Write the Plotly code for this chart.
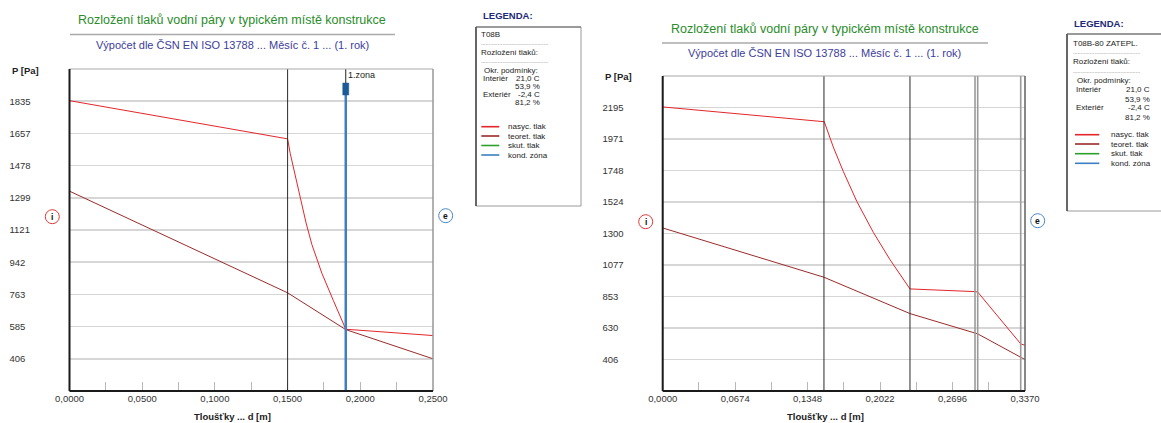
import plotly.graph_objects as go

# ---------------- data ----------------
# left chart: T08B
d_left_sat = [0.0, 0.15, 0.1518, 0.1585, 0.1627, 0.1667, 0.1736, 0.1815, 0.19, 0.25]
p_left_sat = [1838, 1626, 1545, 1300, 1160, 1040, 880, 729, 570, 535]
d_left_teo = [0.0, 0.15, 0.19, 0.25]
p_left_teo = [1336, 772, 568, 406]
left_layers = [0.15]
left_zone = [0.19]
left_yticks = [406, 585, 763, 942, 1121, 1299, 1478, 1657, 1835]
left_xticks = [0.0, 0.05, 0.10, 0.15, 0.20, 0.25]
left_yrange = [227.4, 2013.6]

# right chart: T08B-80 ZATEPL.
d_right_sat = [0.0, 0.1503, 0.1587, 0.168, 0.1805, 0.1959, 0.2114, 0.23, 0.2905, 0.293, 0.333, 0.337]
p_right_sat = [2199, 2094, 1914, 1741, 1529, 1309, 1115, 907, 888, 885, 517, 507]
d_right_teo = [0.0, 0.15, 0.23, 0.2905, 0.293, 0.333, 0.337]
p_right_teo = [1340, 990, 732, 592, 588, 422, 406]
right_layers = [0.15, 0.23]
right_thin_layers = [0.2905, 0.293, 0.333]
right_yticks = [406, 630, 853, 1077, 1300, 1524, 1748, 1971, 2195]
right_xticks = [0.0, 0.0674, 0.1348, 0.2022, 0.2696, 0.3370]
right_yrange = [182.4, 2418.6]

legend_names = ["nasyc. tlak", "teoret. tlak", "skut. tlak", "kond. zóna"]
title_text = "Rozložení tlaků vodní páry v typickém místě konstrukce"
subtitle_text = "Výpočet dle ČSN EN ISO 13788 ... Měsíc č. 1 ... (1. rok)"

# ---------------- style ----------------
W, H = 1161, 423
NARROW = "Liberation Sans Narrow, Arial Narrow, Liberation Sans, Arial, sans-serif"
SANS = "Liberation Sans, Arial, sans-serif"
C_SAT = "#e2262b"
C_TEO = "#9c2a2a"
C_SKUT = "#2ca02c"
C_KOND = "#3d7fc1"
C_GRID = "#d6d6d6"
C_TITLE = "#2a8c2a"
C_SUB = "#3c3c9c"
C_LEG = "#1c2a78"


def px(x):
    return x / W


def py(y):
    return 1 - y / H


fig = go.Figure()

fig.add_trace(go.Scatter(x=d_left_sat, y=p_left_sat, mode="lines", name=legend_names[0],
                         line=dict(color=C_SAT, width=1), xaxis="x", yaxis="y", showlegend=False))
fig.add_trace(go.Scatter(x=d_left_teo, y=p_left_teo, mode="lines", name=legend_names[1],
                         line=dict(color=C_TEO, width=1), xaxis="x", yaxis="y", showlegend=False))
fig.add_trace(go.Scatter(x=d_right_sat, y=p_right_sat, mode="lines", name=legend_names[0],
                         line=dict(color=C_SAT, width=1), xaxis="x2", yaxis="y2", showlegend=False))
fig.add_trace(go.Scatter(x=d_right_teo, y=p_right_teo, mode="lines", name=legend_names[1],
                         line=dict(color=C_TEO, width=1), xaxis="x2", yaxis="y2", showlegend=False))

tickfont = dict(family=NARROW, size=9.5, color="#333333")


def xaxis_cfg(domain, rng, ticks, minor_dtick, anchor):
    return dict(domain=domain, range=rng, anchor=anchor, automargin=False,
                tickmode="array", tickvals=ticks,
                ticktext=[f"{v:.4f}".replace(".", ",") for v in ticks],
                ticks="inside", ticklen=9, tickcolor="#b8b8b8", tickwidth=1,
                minor=dict(tickmode="linear", tick0=0, dtick=minor_dtick, ticks="inside",
                           ticklen=9, tickcolor="#b8b8b8", tickwidth=1, showgrid=False),
                showgrid=False, zeroline=False, showline=False,
                tickfont=tickfont, fixedrange=True)


def yaxis_cfg(domain, rng, ticks, pos):
    return dict(domain=domain, range=rng, anchor="free", position=pos, side="left", automargin=False,
                tickmode="array", tickvals=ticks, ticktext=[str(v) for v in ticks],
                ticklabelposition="inside", ticks="",
                showgrid=True, gridcolor=C_GRID, gridwidth=1.5,
                zeroline=False, showline=False, tickfont=tickfont, fixedrange=True)


L_dom_x = [px(69.5), px(433)]
L_dom_y = [py(391), py(69)]
R_dom_x = [px(662.7), px(1025)]
R_dom_y = [py(391), py(76)]

shapes = []
annotations = []


def frame(xa, ya, right_color):
    shapes.append(dict(type="rect", xref=f"{xa} domain", yref=f"{ya} domain", x0=0, x1=1, y0=0, y1=1,
                       line=dict(color="#a8a8a8", width=1), layer="above"))
    shapes.append(dict(type="line", xref=f"{xa} domain", yref=f"{ya} domain", x0=1, x1=1, y0=0, y1=1,
                       line=dict(color=right_color, width=1.2), layer="above"))
    shapes.append(dict(type="line", xref=f"{xa} domain", yref=f"{ya} domain", x0=0, x1=0, y0=0, y1=1,
                       line=dict(color="#1a1a1a", width=2), layer="above"))
    shapes.append(dict(type="line", xref=f"{xa} domain", yref=f"{ya} domain", x0=0, x1=1, y0=0, y1=0,
                       line=dict(color="#1a1a1a", width=2), layer="above"))


# layer boundaries
for d in left_layers:
    shapes.append(dict(type="line", xref="x", yref="y domain", x0=d, x1=d, y0=0, y1=1,
                       line=dict(color="#2a2a2a", width=1), layer="above"))
for d in right_layers:
    shapes.append(dict(type="line", xref="x2", yref="y2 domain", x0=d, x1=d, y0=0, y1=1,
                       line=dict(color="#2a2a2a", width=1), layer="above"))
for d in right_thin_layers:
    shapes.append(dict(type="line", xref="x2", yref="y2 domain", x0=d, x1=d, y0=0, y1=1,
                       line=dict(color="#9a9a9a", width=1.6), layer="above"))

# condensation zone (left)
for d in left_zone:
    shapes.append(dict(type="line", xref="x", yref="y domain", x0=d, x1=d, y0=0, y1=(391 - 95) / 322,
                       line=dict(color=C_KOND, width=2.5), layer="above"))
    shapes.append(dict(type="line", xref="x", yref="y domain", x0=d, x1=d, y0=(391 - 83) / 322, y1=1,
                       line=dict(color="#222222", width=1), layer="above"))
    shapes.append(dict(type="rect", xref="x", yref="y domain", xsizemode="pixel", xanchor=d,
                       x0=-3, x1=3, y0=(391 - 95) / 322, y1=(391 - 83) / 322,
                       line=dict(color="#1b5a96", width=0.5), fillcolor="#1b5a96", layer="above"))
    annotations.append(dict(xref="x", yref="y domain", x=d, y=(391 - 75) / 322, text="1.zona",
                            showarrow=False, xanchor="left", yanchor="middle", xshift=0,
                            font=dict(family=NARROW, size=9, color="#222222")))

frame("x", "y", "#9a9a9a")
frame("x2", "y2", "#555555")


def ann(x, y, text, size=9, color="#222222", family=NARROW, anchor="left"):
    annotations.append(dict(xref="paper", yref="paper", x=px(x), y=py(y), text=text, showarrow=False,
                            xanchor=anchor, yanchor="middle", font=dict(family=family, size=size, color=color)))


def hline(x0, x1, y, color, width):
    shapes.append(dict(type="line", xref="paper", yref="paper", x0=px(x0), x1=px(x1), y0=py(y), y1=py(y),
                       line=dict(color=color, width=width), layer="above"))


# titles
for cx, ty, ly, sy, lx0, lx1 in [(232, 20, 34.5, 45, 70, 395), (824.5, 29, 43, 52.7, 662, 988)]:
    ann(cx, ty, title_text, size=12.5, color=C_TITLE, family=SANS, anchor="center")
    hline(lx0, lx1, ly, "#aaaaaa", 1.5)
    ann(cx, sy, subtitle_text, size=11, color=C_SUB, family=NARROW, anchor="center")

# axis labels
ann(10, 70, "<b>P [Pa]</b>", size=9.5, color="#222222", family=SANS)
ann(603, 76.7, "<b>P [Pa]</b>", size=9.5, color="#222222", family=SANS)
ann(232.5, 416, "<b>Tloušťky ... d [m]</b>", size=9.5, color="#222222", family=SANS, anchor="center")
ann(825, 416, "<b>Tloušťky ... d [m]</b>", size=9.5, color="#222222", family=SANS, anchor="center")

# i / e markers
for cx, cy, col, letter in [(52.3, 216.7, "#e03a3a", "i"), (645.7, 221.7, "#e03a3a", "i"),
                            (445.7, 215.7, "#4a8ac8", "e"), (1037.7, 220.7, "#4a8ac8", "e")]:
    shapes.append(dict(type="circle", xref="paper", yref="paper", xsizemode="pixel", ysizemode="pixel",
                       xanchor=px(cx), yanchor=py(cy), x0=-7, x1=7, y0=-7, y1=7,
                       line=dict(color=col, width=1), layer="above"))
    ann(cx, cy, f"<b>{letter}</b>", size=8.5, color="#111111", family=SANS, anchor="center")


# legend panels
def legend_panel(bx0, bx1, by0, by1, head_y, name, rows_y, line_x0, line_x1, text_x, left_x, val_x, name_x):
    ann(bx0 + 4.7, head_y, "<b>LEGENDA:</b>", size=9.5, color=C_LEG, family=NARROW)
    shapes.append(dict(type="rect", xref="paper", yref="paper", x0=px(bx0), x1=px(bx1), y0=py(by1), y1=py(by0),
                       line=dict(color="#9a9a9a", width=1), fillcolor="white", layer="below"))
    shapes.append(dict(type="line", xref="paper", yref="paper", x0=px(bx0), x1=px(bx0), y0=py(by1), y1=py(by0),
                       line=dict(color="#444444", width=1.5), layer="above"))
    shapes.append(dict(type="line", xref="paper", yref="paper", x0=px(bx0), x1=px(bx1), y0=py(by0), y1=py(by0),
                       line=dict(color="#666666", width=1), layer="above"))
    (y_name, y_dot1, y_rozl, y_dot2, y_okr, y_int, y_int2, y_ext, y_ext2, y_leg) = rows_y
    dots = "." * 44
    ann(name_x, y_name, name, size=8)
    ann(name_x, y_dot1, dots, size=5.5, color="#555555")
    ann(name_x, y_rozl, "Rozložení tlaků:", size=8)
    ann(name_x, y_dot2, dots, size=5.5, color="#555555")
    ann(left_x, y_okr, "Okr. podmínky:", size=8)
    ann(left_x - 1, y_int, "Interiér", size=8)
    ann(val_x, y_int, "21,0 C", size=8, anchor="right")
    ann(val_x, y_int2, "53,9 %", size=8, anchor="right")
    ann(left_x - 1, y_ext, "Exteriér", size=8)
    ann(val_x, y_ext, "-2,4 C", size=8, anchor="right")
    ann(val_x, y_ext2, "81,2 %", size=8, anchor="right")
    for yy, col, nm in zip(y_leg, [C_SAT, C_TEO, C_SKUT, C_KOND], legend_names):
        hline(line_x0, line_x1, yy, col, 1.6)
        ann(text_x, yy, nm, size=8)


legend_panel(476, 581, 27, 206, 15, "T08B",
             (34, 43, 52.3, 61.5, 70.7, 78.5, 86.5, 94.8, 102.5, [126.7, 136.0, 145.5, 155.0]),
             481.3, 499.3, 506, 481.5, 542, 479.3)
legend_panel(1067, 1175, 34, 211, 24, "T08B-80 ZATEPL.",
             (43.3, 52, 61.7, 70.7, 81, 90, 99, 108, 117.3, [134.7, 144.0, 153.7, 163.3]),
             1075, 1099.3, 1109.3, 1074.5, 1152, 1071)

fig.update_layout(
    width=W, height=H, autosize=False,
    margin=dict(l=0, r=0, t=0, b=0, pad=0, autoexpand=False),
    paper_bgcolor="white", plot_bgcolor="white",
    showlegend=False,
    hovermode=False,
    xaxis=xaxis_cfg(L_dom_x, [0, 0.25], left_xticks, 0.025, "y"),
    yaxis=yaxis_cfg(L_dom_y, left_yrange, left_yticks, px(5.5)),
    xaxis2=xaxis_cfg(R_dom_x, [0, 0.337], right_xticks, 0.0337, "y2"),
    yaxis2=yaxis_cfg(R_dom_y, right_yrange, right_yticks, px(598.5)),
    shapes=shapes,
    annotations=annotations,
)

fig.write_html("out.html", config={"displayModeBar": False, "staticPlot": True},
               post_script="document.body.style.margin='0px';")
